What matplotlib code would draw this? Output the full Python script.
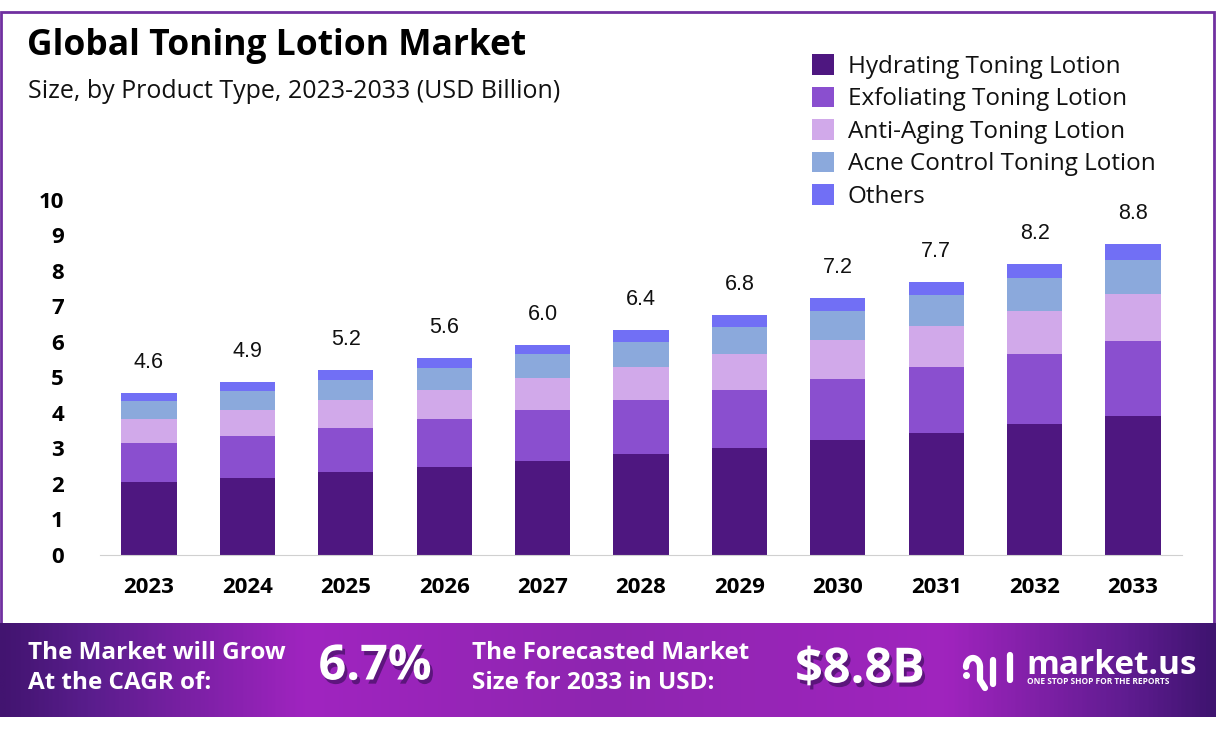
import numpy as np
import matplotlib
matplotlib.use("Agg")
import matplotlib.pyplot as plt
import matplotlib.patheffects as pe
from matplotlib.colors import LinearSegmentedColormap
from matplotlib.patches import Rectangle

years = [2023, 2024, 2025, 2026, 2027, 2028, 2029, 2030, 2031, 2032, 2033]
hydrating = [2.05, 2.17, 2.34, 2.48, 2.65, 2.85, 3.01, 3.24, 3.44, 3.69, 3.92]
exfoliating = [1.10, 1.18, 1.24, 1.35, 1.44, 1.52, 1.63, 1.72, 1.86, 1.97, 2.11]
anti_aging = [0.68, 0.73, 0.79, 0.82, 0.90, 0.93, 1.01, 1.10, 1.15, 1.21, 1.32]
acne_control = [0.51, 0.54, 0.56, 0.62, 0.65, 0.70, 0.76, 0.79, 0.85, 0.93, 0.96]
others = [0.22, 0.25, 0.28, 0.28, 0.28, 0.34, 0.34, 0.37, 0.39, 0.39, 0.45]
totals = ["4.6", "4.9", "5.2", "5.6", "6.0", "6.4", "6.8", "7.2", "7.7", "8.2", "8.8"]
series_names = ["Hydrating Toning Lotion", "Exfoliating Toning Lotion", "Anti-Aging Toning Lotion",
                "Acne Control Toning Lotion", "Others"]
series_colors = ["#4E1780", "#8A4FCF", "#D1A9EA", "#8BA9DC", "#716FF5"]
series = [hydrating, exfoliating, anti_aging, acne_control, others]

W, H = 1216, 734
fig = plt.figure(figsize=(W / 100, H / 100), dpi=100, facecolor="white")
HEAD = ["Open Sans", "DejaVu Sans"]

def fx(x): return x / W
def fy(y): return 1 - y / H

# background canvas in pixel coordinates
bg = fig.add_axes([0, 0, 1, 1], zorder=0)
bg.set_xlim(0, W); bg.set_ylim(H, 0); bg.axis("off")
bg.add_patch(Rectangle((1, 12), W - 3, 612, fill=False, ec="#7030A0", lw=2))
cmap = LinearSegmentedColormap.from_list("band", [
    (0, "#421470"), (0.07, "#591D8C"), (0.25, "#A024C0"), (0.5, "#8E26B0"), (0.78, "#A024BE"), (0.93, "#5F1C90"), (1, "#3F1470")])
bg.imshow(np.linspace(0, 1, 600).reshape(1, -1), cmap=cmap, aspect="auto", extent=(0, W, 717, 623), zorder=1)
bg.set_xlim(0, W); bg.set_ylim(H, 0)

# chart
ax = fig.add_axes([fx(100), fy(555), (1182 - 100) / W, 355.5 / H], zorder=2)
x = np.arange(len(years))
bottom = np.zeros(len(years))
for vals, name, col in zip(series, series_names, series_colors):
    ax.bar(x, vals, width=0.56, bottom=bottom, color=col, label=name, linewidth=0)
    bottom += np.array(vals)
for xi, top, lab in zip(x, bottom, totals):
    ax.annotate(lab, (xi, top), xytext=(0, 20), textcoords="offset pixels", ha="center", va="bottom",
                fontsize=15.5, family="Liberation Sans", color="#111111")
ax.set_xlim((100 - 149) / 98.4, (1182 - 149) / 98.4)
ax.set_ylim(0, 10)
ax.set_yticks(range(0, 11))
ax.set_xticks(x, years)
ax.tick_params(length=0)
ax.tick_params(axis="x", pad=16)
ax.tick_params(axis="y", pad=26)
for lab in ax.get_xticklabels() + ax.get_yticklabels():
    lab.set_fontsize(16); lab.set_fontweight("bold"); lab.set_family(HEAD); lab.set_color("black")
for s in ["top", "left", "right"]:
    ax.spines[s].set_visible(False)
ax.spines["bottom"].set_color("#D0D0D0")
ax.patch.set_alpha(0)

handles, labels = ax.get_legend_handles_labels()
leg = fig.legend(handles, labels, loc="upper left", bbox_to_anchor=(fx(793), fy(35)), frameon=False,
                 prop={"family": "Open Sans", "size": 17.5}, handlelength=0.9, handleheight=0.9,
                 handletextpad=0.55, labelspacing=0.33, borderpad=0.3)
for t in leg.get_texts():
    t.set_color("#111111")

# headings
fig.text(fx(27), fy(46), "Global Toning Lotion Market", fontsize=25.5, fontweight="bold", family=HEAD,
         va="center", color="black")
fig.text(fx(28), fy(91), "Size, by Product Type, 2023-2033 (USD Billion)", fontsize=18, family=HEAD,
         va="center", color="#111111")

# footer band
white = "white"
shadow = [pe.SimplePatchShadow(offset=(2, -3), shadow_rgbFace="#2A0A4A", alpha=0.55), pe.Normal()]
for px, py, s in [(28, 653, "The Market will Grow"), (28, 683, "At the CAGR of:"),
                  (472, 653, "The Forecasted Market"), (472, 683, "Size for 2033 in USD:")]:
    fig.text(fx(px), fy(py), s, fontsize=17.5, fontweight="bold", family=HEAD, color=white, va="center", zorder=5)
fig.text(fx(375), fy(667), "6.7%", fontsize=35, fontweight="bold", family=HEAD, color=white, va="center",
         ha="center", path_effects=shadow, zorder=5)
fig.text(fx(860), fy(670), "$8.8B", fontsize=35, fontweight="bold", family=HEAD, color=white, va="center",
         ha="center", path_effects=shadow, zorder=5)
fig.text(fx(1026), fy(665), "market.us", fontsize=24, fontweight="bold", family=HEAD, color=white, va="center", zorder=5)
fig.text(fx(1027), fy(681), "ONE STOP SHOP FOR THE REPORTS", fontsize=6, fontweight="bold", family=HEAD,
         color=white, va="center", zorder=5)

# logo glyph
lg = fig.add_axes([0, 0, 1, 1], zorder=4)
lg.set_xlim(0, W); lg.set_ylim(H, 0); lg.axis("off"); lg.patch.set_alpha(0)
t = np.linspace(np.pi, 2 * np.pi, 30)
kw = dict(color=white, lw=4.5, solid_capstyle="round")
lg.plot(973 + 7 * np.cos(t), 667 + 9 * np.sin(t), **kw)
lg.plot([980, 980, 985], [667, 680, 688], **kw)
lg.plot([966], [675], "o", color=white, ms=4)
lg.plot([993, 993], [660, 684], **kw)
lg.plot([1010, 1010], [655, 680], **kw)

fig.savefig("out.png", dpi=100, facecolor="white")
